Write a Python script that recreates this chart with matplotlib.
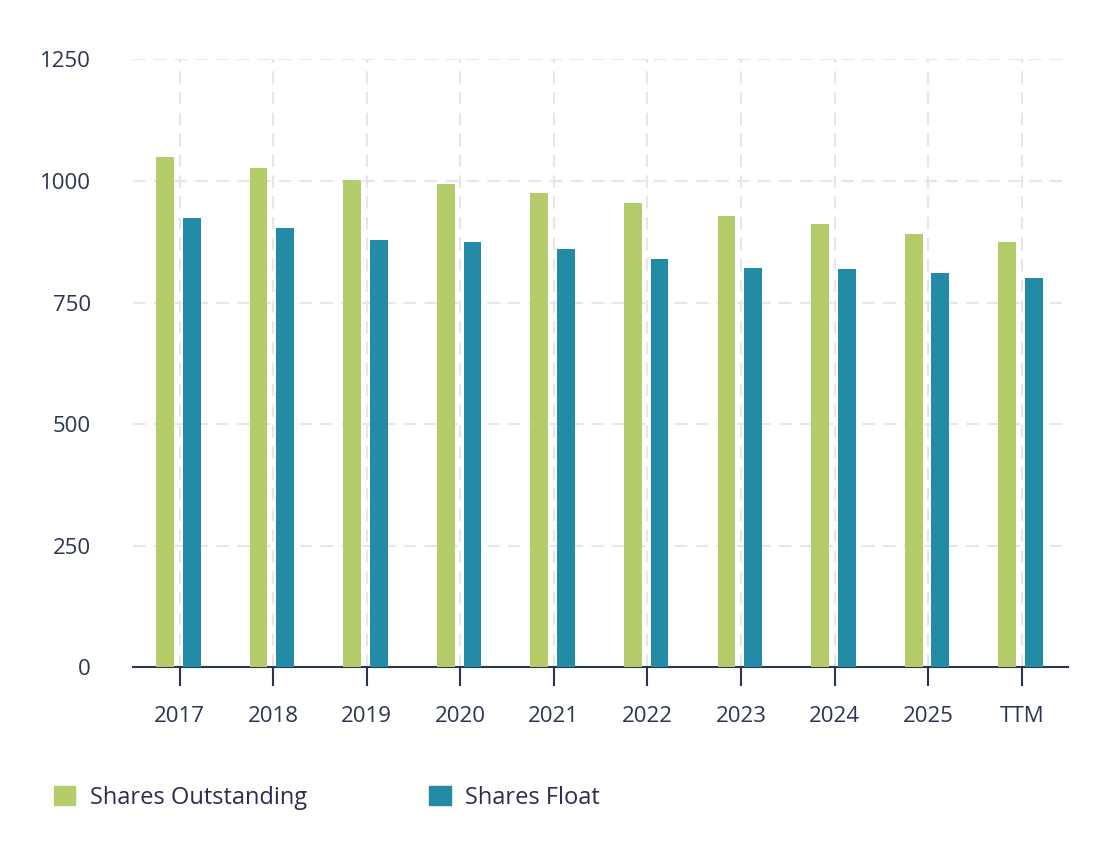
import matplotlib.pyplot as plt
import numpy as np

years = ["2017", "2018", "2019", "2020", "2021", "2022", "2023", "2024", "2025", "TTM"]
shares_outstanding = [1050, 1026, 1003, 993, 975, 954, 929, 911, 890, 874]
shares_float = [923, 903, 878, 874, 861, 839, 822, 818, 810, 800]

green = "#b5cc6a"
blue = "#238ba5"
text_col = "#2a3550"

plt.rcParams["font.family"] = ["Open Sans", "DejaVu Sans"]

fig = plt.figure(figsize=(10.97, 8.61), dpi=100)
ax = fig.add_axes([0.121, 0.225, 0.853, 0.706])

x = np.arange(len(years))
ax.bar(x - 0.155, shares_outstanding, width=0.19, color=green, zorder=3)
ax.bar(x + 0.13, shares_float, width=0.19, color=blue, zorder=3)

ax.set_xlim(-0.5, len(years) - 0.5)
ax.set_ylim(0, 1250)
ax.set_yticks([0, 250, 500, 750, 1000, 1250])
ax.set_xticks(x)
ax.set_xticklabels(years)
ax.grid(True, color="#e6e6e6", linestyle=(0, (6, 4)), linewidth=1.5, zorder=0)
for s in ["top", "right", "left"]:
    ax.spines[s].set_visible(False)
ax.spines["bottom"].set_color(text_col)
ax.spines["bottom"].set_linewidth(1.5)
ax.tick_params(axis="x", length=14, width=1.5, color=text_col, labelsize=16, labelcolor=text_col, pad=14)
ax.tick_params(axis="y", length=0, labelsize=16, labelcolor=text_col, pad=30)

h1 = plt.Rectangle((0, 0), 1, 1, color=green)
h2 = plt.Rectangle((0, 0), 1, 1, color=blue)
fig.legend([h1, h2], ["Shares Outstanding", "Shares Float"], loc="lower left",
           bbox_to_anchor=(0.03, 0.035), ncol=2, frameon=False, fontsize=17,
           labelcolor="#2e2a50", handlelength=0.9, handleheight=0.9,
           handletextpad=0.6, columnspacing=5.2)

fig.savefig("out.png")
